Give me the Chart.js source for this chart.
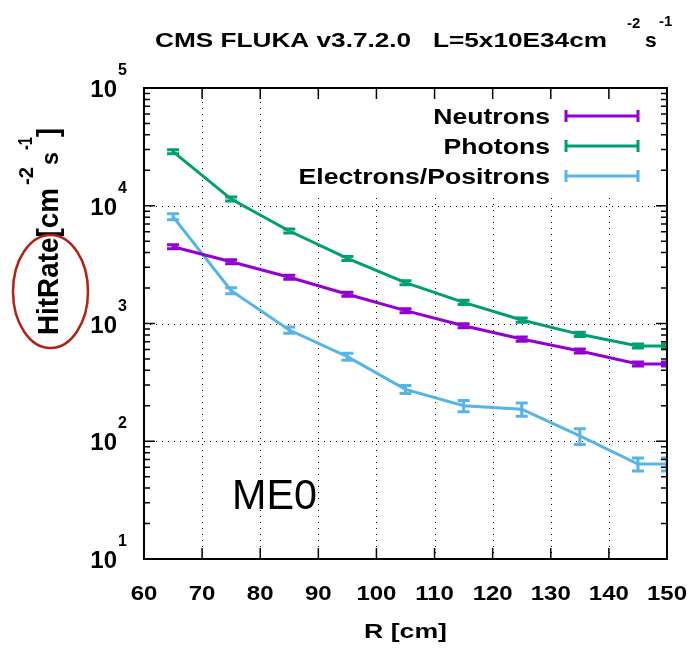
<!DOCTYPE html>
<html>
<head>
<meta charset="utf-8">
<script src="https://cdn.jsdelivr.net/npm/chart.js@4"></script>
<style>
  html, body { margin: 0; padding: 0; background: #fff; }
  canvas { display: block; }
</style>
</head>
<body>
<canvas id="chartHitRate" width="696" height="651"></canvas>
<script>
// Data (R in cm, hit rate in cm^-2 s^-1)
const radii = [65, 75, 85, 95, 105, 115, 125, 135, 145, 150];

const neutrons = [4490, 3350, 2470, 1770, 1285, 958, 738, 584, 453, 453];
const neutronsErr = [180, 130, 100, 70, 50, 38, 30, 23, 18, 18];

const photons = [28800, 11400, 6100, 3575, 2220, 1513, 1070, 809, 644, 644];
const photonsErr = [1100, 450, 240, 140, 90, 60, 43, 32, 26, 26];

const electrons = [8070, 1900, 880, 523, 276, 200, 187, 111, 64, 64];
const electronsErr = [480, 110, 52, 36, 22, 22, 24, 17, 8, 8];

const seriesNames = ["Neutrons", "Photons", "Electrons/Positrons"];
const seriesColors = ["rgb(148, 0, 211)", "rgb(0, 158, 115)", "rgb(86, 180, 233)"];

const xTickValues = [60, 70, 80, 90, 100, 110, 120, 130, 140, 150];
const yDecades = [1, 2, 3, 4, 5];

const FONT = '"Liberation Sans", Arial, sans-serif';

function toPoints(values) {
  return values.map((v, i) => ({ x: radii[i], y: v }));
}

// draw text stretched horizontally by sx (gnuplot font is wider than Arial)
function wideText(ctx, text, x, y, size, sx, align, weight = "bold") {
  ctx.save();
  ctx.font = `${weight} ${size}px ${FONT}`;
  const w = ctx.measureText(text).width * sx;
  let x0 = x;
  if (align === "right") x0 = x - w;
  if (align === "center") x0 = x - w / 2;
  ctx.translate(x0, y);
  ctx.scale(sx, 1);
  ctx.textAlign = "left";
  ctx.textBaseline = "alphabetic";
  ctx.fillText(text, 0, 0);
  ctx.restore();
  return x0 + w;
}

// text fitted into [x0, x1]
function fitText(ctx, text, x0, x1, y, size, weight = "bold") {
  ctx.save();
  ctx.font = `${weight} ${size}px ${FONT}`;
  const sx = (x1 - x0) / ctx.measureText(text).width;
  ctx.translate(x0, y);
  ctx.scale(sx, 1);
  ctx.fillText(text, 0, 0);
  ctx.restore();
}

const gridPlugin = {
  id: "gridPlugin",
  beforeDatasetsDraw(chart) {
    const { ctx, chartArea: a, scales: { x, y } } = chart;
    ctx.save();
    ctx.strokeStyle = "#000";
    ctx.lineWidth = 1;
    ctx.setLineDash([1, 5]);
    xTickValues.slice(1, -1).forEach((v) => {
      const px = Math.round(x.getPixelForValue(v)) + 0.5;
      ctx.beginPath();
      ctx.moveTo(px, a.bottom);
      ctx.lineTo(px, a.top);
      ctx.stroke();
    });
    yDecades.slice(1, -1).forEach((d) => {
      const py = Math.round(y.getPixelForValue(Math.pow(10, d))) + 0.5;
      ctx.beginPath();
      ctx.moveTo(a.left, py);
      ctx.lineTo(a.right, py);
      ctx.stroke();
    });
    ctx.setLineDash([]);
    // opaque key box
    ctx.fillStyle = "#fff";
    ctx.fillRect(280, a.top + 2, a.right - 282, 107);
    ctx.restore();
  },
};

const errorBarPlugin = {
  id: "errorBarPlugin",
  afterDatasetsDraw(chart) {
    const { ctx, chartArea: a, scales: { y } } = chart;
    ctx.save();
    ctx.beginPath();
    ctx.rect(a.left, a.top, a.right - a.left, a.bottom - a.top);
    ctx.clip();
    chart.data.datasets.forEach((ds, i) => {
      const meta = chart.getDatasetMeta(i);
      ctx.strokeStyle = ds.borderColor;
      ctx.lineWidth = 3;
      meta.data.forEach((pt, j) => {
        const v = ds.data[j].y;
        const e = ds.errors[j];
        const top = y.getPixelForValue(v + e);
        const bot = y.getPixelForValue(v - e);
        ctx.beginPath();
        ctx.moveTo(pt.x, top);
        ctx.lineTo(pt.x, bot);
        ctx.moveTo(pt.x - 6, top);
        ctx.lineTo(pt.x + 6, top);
        ctx.moveTo(pt.x - 6, bot);
        ctx.lineTo(pt.x + 6, bot);
        ctx.stroke();
      });
    });
    ctx.restore();
  },
};

const frameAndLabelsPlugin = {
  id: "frameAndLabelsPlugin",
  afterDraw(chart) {
    const { ctx, chartArea: a, scales: { x, y } } = chart;
    ctx.save();
    ctx.strokeStyle = "#000";
    ctx.fillStyle = "#000";

    // ticks
    ctx.lineWidth = 1.5;
    ctx.beginPath();
    xTickValues.forEach((v) => {
      const px = x.getPixelForValue(v);
      ctx.moveTo(px, a.bottom);
      ctx.lineTo(px, a.bottom - 11);
      ctx.moveTo(px, a.top);
      ctx.lineTo(px, a.top + 11);
    });
    yDecades.forEach((d) => {
      const py = y.getPixelForValue(Math.pow(10, d));
      ctx.moveTo(a.left, py);
      ctx.lineTo(a.left + 11, py);
      ctx.moveTo(a.right, py);
      ctx.lineTo(a.right - 11, py);
      if (d < 5) {
        for (let m = 2; m <= 9; m++) {
          const pm = y.getPixelForValue(m * Math.pow(10, d));
          ctx.moveTo(a.left, pm);
          ctx.lineTo(a.left + 6, pm);
          ctx.moveTo(a.right, pm);
          ctx.lineTo(a.right - 6, pm);
        }
      }
    });
    ctx.stroke();

    // frame
    ctx.lineWidth = 2;
    ctx.strokeRect(a.left, a.top, a.right - a.left, a.bottom - a.top);

    // x tick labels
    xTickValues.forEach((v) => {
      wideText(ctx, String(v), x.getPixelForValue(v), 600, 20, 1.2, "center");
    });
    wideText(ctx, "R [cm]", (a.left + a.right) / 2, 638, 21, 1.27, "center");

    // y tick labels 10^n
    yDecades.forEach((d) => {
      const py = y.getPixelForValue(Math.pow(10, d));
      wideText(ctx, "10", 117, py + 9, 24, 1.0, "right");
      wideText(ctx, String(d), 118, py - 13, 16, 1.0, "left");
    });

    // title
    fitText(ctx, "CMS FLUKA v3.7.2.0   L=5x10E34cm", 155, 607, 47, 21);
    wideText(ctx, "-2", 627, 28, 15, 1.0, "left");
    wideText(ctx, "s", 645, 47, 21, 1.0, "left");
    wideText(ctx, "-1", 659, 26, 15, 1.0, "left");

    // y axis title (rotated)
    ctx.save();
    ctx.translate(58, 335);
    ctx.rotate(-Math.PI / 2);
    fitText(ctx, "HitRate[cm", 0, 147, 0, 29);
    fitText(ctx, "-2", 150, 168, -25, 20);
    fitText(ctx, "s", 170, 183, 0, 24);
    fitText(ctx, "-1", 185, 198, -26, 20);
    fitText(ctx, "]", 198, 207, 0, 29);
    ctx.restore();

    // key
    chart.data.datasets.forEach((ds, i) => {
      const ry = 116 + i * 30;
      wideText(ctx, ds.label, 550, ry + 8, 22, 1.21, "right");
      ctx.strokeStyle = ds.borderColor;
      ctx.lineWidth = 3;
      ctx.beginPath();
      ctx.moveTo(566, ry);
      ctx.lineTo(638, ry);
      ctx.moveTo(566, ry - 6);
      ctx.lineTo(566, ry + 6);
      ctx.moveTo(638, ry - 6);
      ctx.lineTo(638, ry + 6);
      ctx.stroke();
    });

    // ME0 label
    ctx.fillStyle = "#000";
    fitText(ctx, "ME0", 232, 317, 509, 43, "normal");

    // highlight ellipse around the axis title
    ctx.strokeStyle = "rgb(178, 34, 20)";
    ctx.lineWidth = 2.5;
    ctx.beginPath();
    ctx.ellipse(50.5, 291.5, 37.5, 56.5, 0, 0, Math.PI * 2);
    ctx.stroke();

    ctx.restore();
  },
};

const ctxHitRate = document.getElementById("chartHitRate").getContext("2d");

const dataHitRate = {
  datasets: [
    { label: seriesNames[0], data: toPoints(neutrons), errors: neutronsErr, borderColor: seriesColors[0] },
    { label: seriesNames[1], data: toPoints(photons), errors: photonsErr, borderColor: seriesColors[1] },
    { label: seriesNames[2], data: toPoints(electrons), errors: electronsErr, borderColor: seriesColors[2] },
  ],
};

const optionsHitRate = {
  responsive: false,
  devicePixelRatio: 1,
  animation: false,
  layout: {
    padding: { left: 144, right: 29, top: 88, bottom: 92 },
  },
  elements: {
    line: { borderWidth: 3, tension: 0, fill: false },
    point: { radius: 0, hoverRadius: 0 },
  },
  scales: {
    x: { type: "linear", min: 60, max: 150, display: false },
    y: { type: "logarithmic", min: 10, max: 100000, display: false },
  },
  plugins: {
    legend: { display: false },
    tooltip: { enabled: false },
  },
};

new Chart(ctxHitRate, {
  type: "line",
  data: dataHitRate,
  options: optionsHitRate,
  plugins: [gridPlugin, errorBarPlugin, frameAndLabelsPlugin],
});
</script>
</body>
</html>
